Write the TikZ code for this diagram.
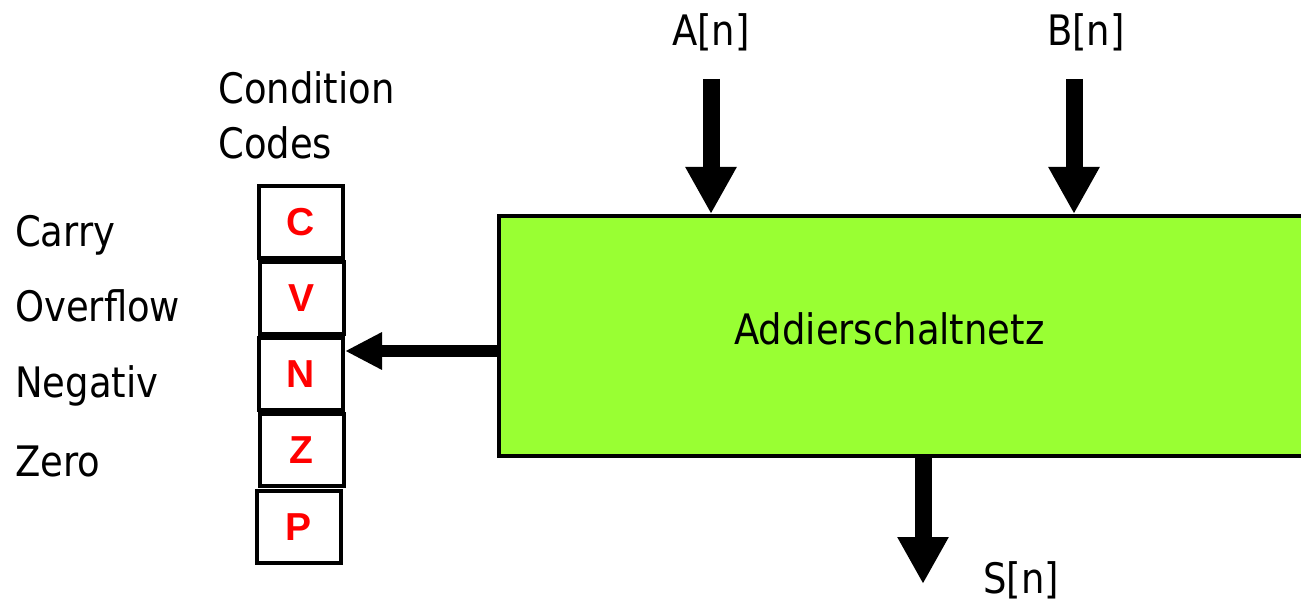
\documentclass[tikz,border=0pt]{standalone}
\usepackage{fontspec}
\setmainfont{DejaVu Sans}[FakeStretch=0.88]
\newfontfamily\flagfont{Liberation Sans}
\usetikzlibrary{arrows.meta}
\definecolor{addergreen}{RGB}{153,255,51}
\definecolor{flagred}{RGB}{255,0,0}

\tikzset{
  lbl/.style={anchor=base west, inner sep=0pt, font=\fontsize{42}{50}\selectfont},
  flagbox/.style={draw=black, line width=4pt, fill=white, minimum width=84pt, minimum height=72pt,
    inner sep=0pt, font=\flagfont\bfseries\fontsize{39}{44}\selectfont, text=flagred},
  adderbox/.style={draw=black, line width=4pt, fill=addergreen, minimum width=821pt, minimum height=240pt, inner sep=0pt},
  busarrow/.style={line width=17pt, -{Triangle[width=48pt,length=47pt]}},
  flagarrow/.style={line width=12pt, -{Triangle[width=35pt,length=37pt]}}
}

\begin{document}
\begin{tikzpicture}[x=1pt,y=-1pt]
  \useasboundingbox (0,0) rectangle (1301,601);
  \clip (0,0) rectangle (1301,601);

  % adder block (extends past the right edge)
  \node[adderbox] (adder) at (909.5,336) {};
  \node[lbl] (addertext) at (734,345) {Addierschaltnetz};

  % condition code flags
  \node[flagbox] (fC) at (300.5,222.5) {C};
  \node[flagbox] (fV) at (301.5,298.5) {V};
  \node[flagbox] (fN) at (301,374) {N};
  \node[flagbox] (fZ) at (301.5,450) {Z};
  \node[flagbox] (fP) at (299,527) {P};

  % labels
  \node[lbl] (cond1) at (218,104) {Condition};
  \node[lbl] (cond2) at (218,159) {Codes};
  \node[lbl] (lC) at (15,247) {Carry};
  \node[lbl] (lV) at (15,322) {Overflow};
  \node[lbl] (lN) at (15,398) {Negativ};
  \node[lbl] (lZ) at (15,476) {Zero};
  \node[lbl] (inA) at (672,46) {A[n]};
  \node[lbl] (inB) at (1047,46) {B[n]};
  \node[lbl] (outS) at (983,593) {S[n]};

  % bus arrows
  \coordinate (aStart) at (711,79);
  \coordinate (bStart) at (1074,79);
  \coordinate (sStart) at (923,458);
  \coordinate (sEnd) at (923,584);
  \coordinate (flagFrom) at (499,351);
  \draw[busarrow] (aStart) -- (aStart |- adder.north);
  \draw[busarrow] (bStart) -- (bStart |- adder.north);
  \draw[busarrow] (sStart) -- (sEnd);
  \draw[flagarrow] (flagFrom) -- (flagFrom -| fN.east);
\end{tikzpicture}
\end{document}
